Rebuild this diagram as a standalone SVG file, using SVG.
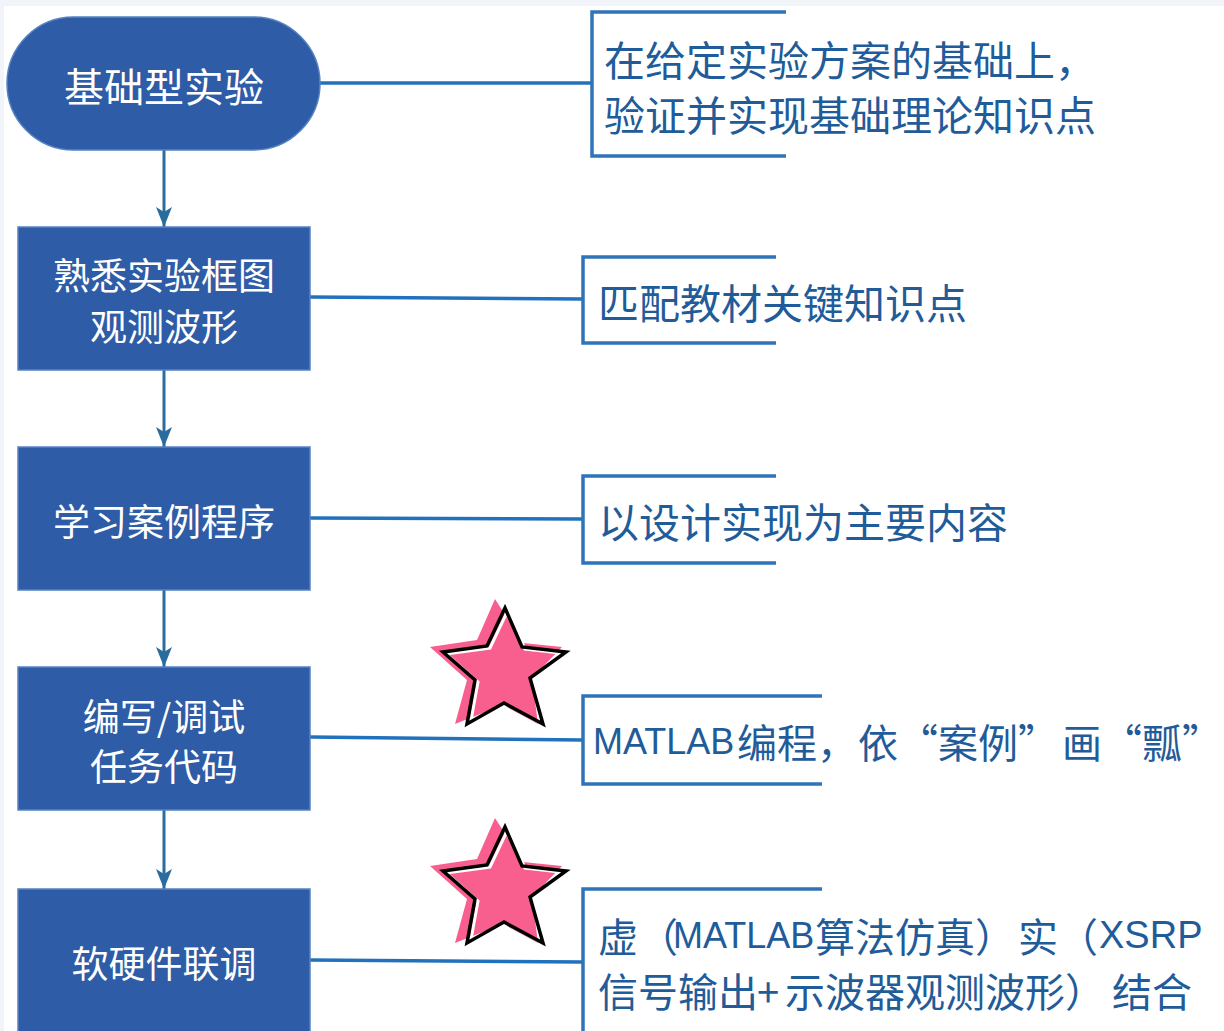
<svg xmlns="http://www.w3.org/2000/svg" width="1224" height="1031" viewBox="0 0 1224 1031">
<defs>
<style>
.node{fill:#2E5CA6;stroke:#5582C2;stroke-width:1.5}
.ntext{fill:#FFFFFF;font-family:"Noto Sans CJK SC","Noto Sans",sans-serif;font-size:37px;text-anchor:middle;dominant-baseline:central}
.conn{stroke:#2271BC;stroke-width:3.5;fill:none}
.brk{stroke:#2F74B8;stroke-width:3.5;fill:none}
.arr{stroke:#2A6C9E;stroke-width:3;fill:none}
.rtext{fill:#1F5C99;font-family:"Noto Sans CJK SC","Noto Sans",sans-serif;font-size:40px;dominant-baseline:central}
.wide{font-size:41px}
.lat{font-family:"Liberation Sans","Noto Sans",sans-serif;font-size:36px}
.pink{fill:#F95F8E}
.outl{fill:none;stroke:#000;stroke-width:3.5;stroke-linejoin:miter}
.hl{fill:none;stroke:#FFFFFF;stroke-width:3}
</style>
<marker id="ah" viewBox="0 0 20 16" refX="20" refY="8" markerWidth="20" markerHeight="16" markerUnits="userSpaceOnUse" orient="auto">
<path d="M0,0 L20,8 L0,16 L5,8 Z" fill="#2A6C9E"/>
</marker>
<g id="star">
<polygon class="pink" points="495,599 523,643 562,647 532,678 538,724 503,705 455,724 467,680 430,647 477,640"/>
<polygon class="hl" transform="translate(3,2)" points="505,608 522,647 566,652 530,678 543,724 504,703 467,724 475,680 443,652 487,646"/>
<polygon class="outl" points="505,608 522,647 566,652 530,678 543,724 504,703 467,724 475,680 443,652 487,646"/>
</g>
</defs>
<rect x="0" y="0" width="1224" height="1031" fill="#FFFFFF"/>
<rect x="0" y="0" width="1224" height="6" fill="#F1F5F9"/>
<rect x="0" y="0" width="4" height="1031" fill="#F1F5F9"/>

<g id="connectors">
<line class="arr" x1="164" y1="150" x2="164" y2="227" marker-end="url(#ah)"/>
<line class="arr" x1="164" y1="370" x2="164" y2="447" marker-end="url(#ah)"/>
<line class="arr" x1="164" y1="590" x2="164" y2="667" marker-end="url(#ah)"/>
<line class="arr" x1="164" y1="810" x2="164" y2="889" marker-end="url(#ah)"/>
<line class="conn" x1="320" y1="83" x2="592" y2="83"/>
<line class="conn" x1="310" y1="297" x2="583" y2="299"/>
<line class="conn" x1="310" y1="518" x2="583" y2="519"/>
<line class="conn" x1="310" y1="737" x2="583" y2="740"/>
<line class="conn" x1="310" y1="960" x2="583" y2="962"/>
<path class="brk" d="M786,12 H592 V156 H786"/>
<path class="brk" d="M776,257 H583 V343 H776"/>
<path class="brk" d="M776,476 H583 V563 H776"/>
<path class="brk" d="M822,696 H583 V784 H822"/>
<path class="brk" d="M822,889 H583 V1040"/>
</g>

<g id="n1">
<rect class="node" x="7" y="17" width="313" height="133" rx="66.5" ry="66.5"/>
<text class="ntext" x="164" y="85" style="font-size:40px">基础型实验</text>
</g>
<g id="n2">
<rect class="node" x="18" y="227" width="292" height="143"/>
<text class="ntext" x="164" y="274">熟悉实验框图</text>
<text class="ntext" x="164" y="325">观测波形</text>
</g>
<g id="n3">
<rect class="node" x="18" y="447" width="292" height="143"/>
<text class="ntext" x="164" y="520">学习案例程序</text>
</g>
<g id="n4">
<rect class="node" x="18" y="667" width="292" height="143"/>
<text class="ntext" x="164" y="715">编写/调试</text>
<text class="ntext" x="164" y="765">任务代码</text>
</g>
<g id="n5">
<rect class="node" x="18" y="889" width="292" height="160"/>
<text class="ntext" x="164" y="962">软硬件联调</text>
</g>

<g id="d1">
<text class="rtext wide" x="604" y="58">在给定实验方案的基础上，</text>
<text class="rtext wide" x="604" y="113">验证并实现基础理论知识点</text>
</g>
<g id="d2">
<text class="rtext wide" x="598" y="301">匹配教材关键知识点</text>
</g>
<g id="d3">
<text class="rtext wide" x="598" y="520">以设计实现为主要内容</text>
</g>
<g id="d4">
<text class="rtext" y="741"><tspan class="lat" x="593">MATLAB</tspan><tspan x="737">编程</tspan><tspan x="817">，</tspan><tspan x="858">依</tspan><tspan x="898">“</tspan><tspan x="938">案例</tspan><tspan x="1018">”</tspan><tspan x="1062">画</tspan><tspan x="1102">“</tspan><tspan x="1142">瓢</tspan><tspan x="1182">”</tspan></text>
</g>
<g id="d5">
<text class="rtext" y="935"><tspan x="598">虚</tspan><tspan x="638">（</tspan><tspan class="lat" x="673">MATLAB</tspan><tspan x="815">算法仿真</tspan><tspan x="975">）</tspan><tspan x="1018">实</tspan><tspan x="1058">（</tspan><tspan class="lat" x="1099" style="font-size:38px">XSRP</tspan></text>
<text class="rtext" y="990"><tspan x="598">信号输出</tspan><tspan x="757">+</tspan><tspan x="785">示波器观测波形</tspan><tspan x="1065">）</tspan><tspan x="1112">结合</tspan></text>
</g>

<g id="star1"><use href="#star"/></g>
<g id="star2"><use href="#star" transform="translate(0,219)"/></g>
</svg>
